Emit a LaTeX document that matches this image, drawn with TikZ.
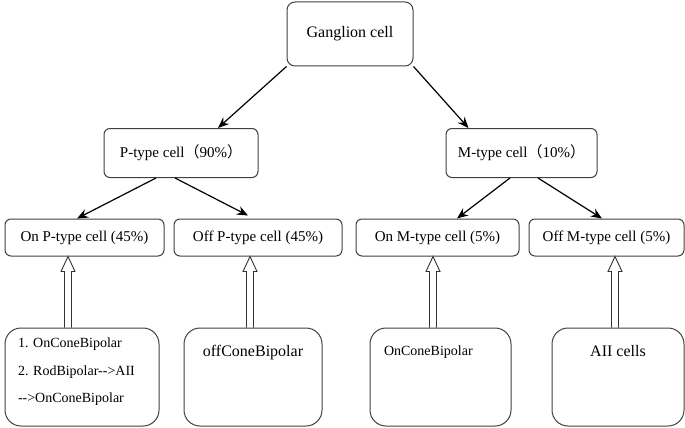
\documentclass[tikz,border=0pt]{standalone}
\usepackage{fontspec}
\setmainfont{Liberation Serif}
\newfontfamily\cjk{Noto Sans CJK SC}
\usetikzlibrary{arrows.meta, positioning, calc}

\tikzset{
  cellbox/.style={draw=black!75, line width=1pt, rounded corners=6pt, inner sep=0pt, align=center, font=\fontsize{15}{18}\selectfont},
  srcbox/.style={cellbox, rounded corners=16pt, minimum height=98pt},
  arr/.style={-{Stealth[length=11pt, width=9pt]}, line width=1.2pt},
  % open block arrow, drawn straight up from the start point
  hollow/.style={draw=black!80, line width=0.9pt, to path={
    let \p1=(\tikztostart), \p2=(\tikztotarget) in
    (\x1-3.5pt,\y1) -- (\x1-3.5pt,\y2-15pt) -- (\x1-7pt,\y2-15pt) -- (\x1,\y2)
    -- (\x1+7pt,\y2-15pt) -- (\x1+3.5pt,\y2-15pt) -- (\x1+3.5pt,\y1)}}
}

\begin{document}
\begin{tikzpicture}[x=1pt, y=-1pt]
  \useasboundingbox (0,0) rectangle (685,428);

  \node (gang) [cellbox, rounded corners=8pt, minimum width=126pt, minimum height=64pt, font=\fontsize{16}{19}\selectfont] at (350,34) {Ganglion cell};

  \node (ptype) [cellbox, minimum width=154pt, minimum height=49pt] at (181,153) {P-type cell{\cjk （}90\%{\cjk ）}};
  \node (mtype) [cellbox, minimum width=151pt, minimum height=49pt] at (521.5,153) {M-type cell{\cjk （}10\%{\cjk ）}};

  \node (onp) [cellbox, minimum width=159pt, minimum height=37pt] at (84.5,237.5) {On P-type cell (45\%)};
  \node (offp) [cellbox, minimum width=168pt, minimum height=37pt] at (258,237.5) {Off P-type cell (45\%)};
  \node (onm) [cellbox, minimum width=163pt, minimum height=37pt] at (437.5,237.5) {On M-type cell (5\%)};
  \node (offm) [cellbox, minimum width=155pt, minimum height=37pt] at (606.5,237.5) {Off M-type cell (5\%)};

  \node (src1) [srcbox, minimum width=154pt, font=\fontsize{14}{27.5}\selectfont] at (82,377)
    {\parbox[t][82pt][t]{128pt}{\vspace{2pt}\raggedright 1. OnConeBipolar\\2. RodBipolar-{}->AII\\-{}->OnConeBipolar}};
  \node (src2) [srcbox, minimum width=138pt, font=\fontsize{16}{19}\selectfont] at (253,377)
    {\parbox[t][82pt][t]{120pt}{\vspace{9pt}\centering offConeBipolar}};
  \node (src3) [srcbox, minimum width=141pt, font=\fontsize{14}{17}\selectfont] at (440.5,377)
    {\parbox[t][82pt][t]{113pt}{\vspace{10pt}\raggedright OnConeBipolar}};
  \node (src4) [srcbox, minimum width=132pt, font=\fontsize{16}{19}\selectfont] at (618,377)
    {\parbox[t][82pt][t]{110pt}{\vspace{9pt}\centering AII cells}};

  \draw[arr] (gang.south west) -- ([xshift=37pt]ptype.north);
  \draw[arr] (gang.south east) -- ([xshift=-53pt]mtype.north);
  \draw[arr] ([xshift=-25pt]ptype.south) -- ([xshift=-7.5pt]onp.north);
  \draw[arr] ([xshift=-6pt]ptype.south) -- ([xshift=-10pt,yshift=3pt]offp.north);
  \draw[arr] ([xshift=-11.5pt]mtype.south) -- ([xshift=19.5pt]onm.north);
  \draw[arr] ([xshift=16.5pt]mtype.south) -- ([xshift=-4.5pt]offm.north);

  \draw[hollow] ([xshift=-14pt]src1.north) to (onp.south);
  \draw[hollow] ([xshift=-3pt]src2.north) to (offp.south);
  \draw[hollow] ([xshift=-7.5pt]src3.north) to (onm.south);
  \draw[hollow] ([xshift=-3pt]src4.north) to (offm.south);
\end{tikzpicture}
\end{document}
